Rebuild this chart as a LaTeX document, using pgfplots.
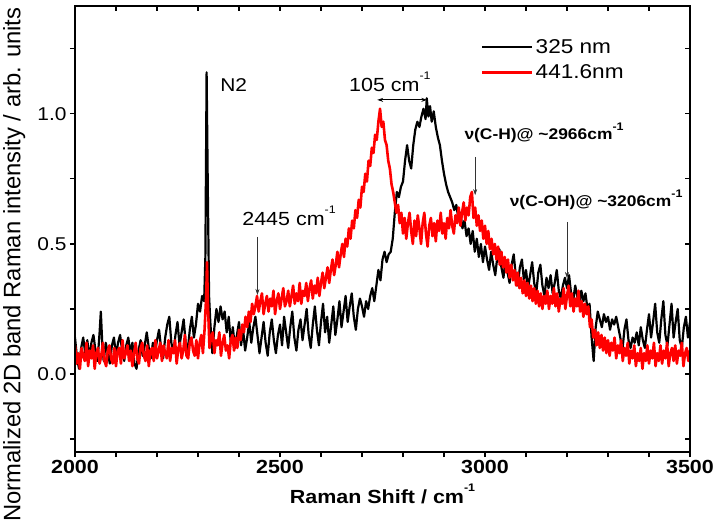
\documentclass[border=0pt]{standalone}
\usepackage{fontspec}
\setmainfont{Liberation Sans}[FakeStretch=1.13]
\newfontfamily\ylabfont{Liberation Sans}
\usepackage{pgfplots}
\pgfplotsset{compat=1.18}
\usetikzlibrary{arrows.meta}
\newcommand\fs[1]{\fontsize{#1}{#1}\selectfont}
\newcommand\sups[1]{\raisebox{0.62em}{\fontsize{11bp}{11bp}\selectfont #1}}
\begin{document}
\begin{tikzpicture}
\useasboundingbox (-75bp,-80bp) rectangle (638bp,452bp);
\begin{axis}[
  scale only axis, width=615bp, height=446bp,
  xmin=2000, xmax=3500, ymin=-0.3, ymax=1.415,
  xtick={2000,2500,3000,3500}, minor x tick num=4,
  ytick={0,0.5,1}, minor ytick={-0.25,0.25,0.75,1.25},
  xtick pos=left, ytick pos=left, tick align=outside,
  major tick length=5bp, minor tick length=5bp,
  every tick/.style={black, line width=1.1bp},
  axis line style={line width=1.3bp},
  /pgf/number format/assume math mode=true,
  /pgf/number format/1000 sep={},
  xticklabel style={font=\fs{19bp}\bfseries},
  yticklabel style={font=\fs{18.5bp}, /pgf/number format/fixed, /pgf/number format/fixed zerofill, /pgf/number format/precision=1},
  xlabel={Raman Shift / cm\sups{-1}},
  xlabel style={font=\fs{19bp}\bfseries, yshift=-3bp},
  ylabel={Normalized 2D band Raman intensity / arb. units},
  every axis y label/.style={at={(axis description cs:-0.099,0.42)}, rotate=90, anchor=center, font=\ylabfont\fs{23.8bp}},
  legend style={at={(0.66,0.93)}, anchor=north west, draw=none, fill=none, font=\fs{20bp}, inner sep=0pt, row sep=6bp, /tikz/every even column/.append style={column sep=7bp}},
  legend image code/.code={\draw[#1] (0bp,0bp) -- (50bp,0bp);},
  legend cell align=left,
]
\addplot[black, line width=2.2bp, line join=round] coordinates {
(2000,0.14)(2005,0.06)(2010,0.02)(2015,0.10)(2020,0.14)(2025,0.08)(2030,0.13)(2035,0.06)(2040,0.12)(2045,0.15)
(2050,0.09)(2055,0.05)(2060,0.16)(2063,0.24)(2067,0.10)(2070,0.05)(2075,0.12)(2080,0.08)(2085,0.04)(2090,0.11)
(2095,0.14)(2100,0.07)(2105,0.12)(2110,0.15)(2115,0.09)(2120,0.05)(2125,0.11)(2130,0.14)(2135,0.08)(2140,0.12)
(2145,0.04)(2150,0.02)(2155,0.09)(2160,0.13)(2165,0.07)(2170,0.11)(2175,0.16)(2180,0.10)(2185,0.06)(2190,0.12)
(2195,0.08)(2200,0.13)(2205,0.17)(2210,0.10)(2215,0.06)(2220,0.14)(2225,0.19)(2230,0.22)(2235,0.12)(2240,0.08)
(2245,0.15)(2250,0.20)(2255,0.11)(2260,0.16)(2265,0.21)(2270,0.12)(2275,0.09)(2280,0.17)(2285,0.22)(2290,0.14)
(2295,0.19)(2300,0.27)(2305,0.24)(2310,0.30)(2315,0.28)(2318,0.45)(2321,1.16)(2324,0.70)(2327,0.30)(2330,0.20)
(2335,0.08)(2340,0.18)(2345,0.25)(2350,0.20)(2355,0.26)(2360,0.21)(2365,0.24)(2370,0.16)(2375,0.22)(2380,0.12)
(2385,0.18)(2390,0.10)(2395,0.15)(2400,0.20)(2405,0.11)(2410,0.17)(2415,0.09)(2420,0.14)(2425,0.20)(2430,0.12)
(2435,0.18)(2440,0.22)(2445,0.15)(2450,0.08)(2455,0.14)(2460,0.20)(2465,0.12)(2470,0.07)(2475,0.16)(2480,0.21)
(2485,0.13)(2490,0.08)(2495,0.15)(2500,0.19)(2505,0.11)(2510,0.22)(2515,0.16)(2520,0.10)(2525,0.18)(2530,0.24)
(2535,0.14)(2540,0.09)(2545,0.17)(2550,0.21)(2555,0.13)(2560,0.19)(2565,0.25)(2570,0.15)(2575,0.10)(2580,0.19)
(2585,0.26)(2590,0.17)(2595,0.11)(2600,0.20)(2605,0.27)(2610,0.16)(2615,0.22)(2620,0.12)(2625,0.19)(2630,0.26)
(2635,0.15)(2640,0.21)(2645,0.28)(2650,0.18)(2655,0.24)(2660,0.30)(2665,0.20)(2670,0.26)(2675,0.31)(2680,0.22)
(2685,0.17)(2690,0.25)(2695,0.29)(2700,0.26)(2705,0.22)(2710,0.28)(2715,0.25)(2720,0.30)(2725,0.33)(2730,0.28)
(2735,0.34)(2740,0.40)(2745,0.36)(2750,0.44)(2755,0.47)(2760,0.43)(2765,0.46)(2770,0.47)(2775,0.52)(2780,0.62)
(2785,0.70)(2790,0.68)(2795,0.72)(2800,0.74)(2805,0.82)(2810,0.88)(2815,0.82)(2820,0.79)(2825,0.88)(2830,0.94)
(2835,0.97)(2840,0.95)(2845,0.99)(2850,1.02)(2855,0.98)(2858,1.06)(2862,0.99)(2866,1.03)(2870,0.97)(2875,1.01)
(2880,0.95)(2885,0.91)(2890,0.88)(2895,0.82)(2900,0.77)(2905,0.73)(2910,0.70)(2915,0.68)(2920,0.66)(2925,0.63)
(2930,0.65)(2935,0.60)(2940,0.62)(2945,0.56)(2950,0.59)(2955,0.53)(2960,0.56)(2965,0.50)(2970,0.55)(2975,0.47)
(2980,0.52)(2985,0.45)(2990,0.50)(2995,0.43)(3000,0.49)(3005,0.44)(3010,0.40)(3015,0.47)(3020,0.42)(3025,0.38)
(3030,0.45)(3035,0.48)(3040,0.41)(3045,0.37)(3050,0.44)(3055,0.39)(3060,0.35)(3065,0.42)(3070,0.46)(3075,0.38)
(3080,0.34)(3085,0.41)(3090,0.44)(3095,0.36)(3100,0.40)(3105,0.33)(3110,0.38)(3115,0.43)(3120,0.35)(3125,0.31)
(3130,0.39)(3135,0.42)(3140,0.34)(3145,0.30)(3150,0.37)(3155,0.33)(3160,0.38)(3165,0.31)(3170,0.35)(3175,0.40)
(3180,0.32)(3185,0.29)(3190,0.34)(3195,0.37)(3200,0.33)(3205,0.38)(3210,0.31)(3215,0.28)(3220,0.34)(3225,0.30)
(3230,0.26)(3235,0.32)(3240,0.28)(3245,0.31)(3250,0.25)(3255,0.27)(3260,0.14)(3265,0.05)(3270,0.18)(3275,0.24)
(3280,0.21)(3285,0.18)(3290,0.23)(3295,0.20)(3300,0.22)(3305,0.17)(3310,0.21)(3315,0.19)(3320,0.22)(3325,0.18)
(3330,0.14)(3335,0.09)(3340,0.17)(3345,0.21)(3350,0.13)(3355,0.10)(3360,0.14)(3365,0.12)(3370,0.16)(3375,0.11)
(3380,0.18)(3385,0.13)(3390,0.10)(3395,0.17)(3400,0.23)(3405,0.14)(3410,0.20)(3415,0.27)(3420,0.16)(3425,0.12)
(3430,0.21)(3435,0.28)(3440,0.15)(3445,0.11)(3450,0.19)(3455,0.27)(3460,0.14)(3465,0.20)(3470,0.25)(3475,0.13)
(3480,0.10)(3485,0.18)(3490,0.22)(3495,0.14)(3500,0.20)
};
\addlegendentry{325 nm}
\addplot[red, line width=2.6bp, line join=round] coordinates {
(2000,0.11)(2004,0.04)(2008,0.08)(2012,0.02)(2016,0.10)(2020,0.07)(2024,0.05)(2028,0.12)(2032,0.03)(2036,0.09)
(2040,0.06)(2044,0.11)(2048,0.02)(2052,0.08)(2056,0.10)(2060,0.04)(2064,0.07)(2068,0.12)(2072,0.05)(2076,0.03)
(2080,0.09)(2084,0.11)(2088,0.06)(2092,0.04)(2096,0.10)(2100,0.03)(2104,0.09)(2108,0.10)(2112,0.04)(2116,0.13)
(2120,0.06)(2124,0.08)(2128,0.11)(2132,0.05)(2136,0.09)(2140,0.03)(2144,0.08)(2148,0.12)(2152,0.06)(2156,0.04)
(2160,0.10)(2164,0.12)(2168,0.07)(2172,0.05)(2176,0.11)(2180,0.03)(2184,0.09)(2188,0.10)(2192,0.05)(2196,0.13)
(2200,0.06)(2204,0.09)(2208,0.12)(2212,0.05)(2216,0.11)(2220,0.08)(2224,0.06)(2228,0.13)(2232,0.05)(2236,0.10)
(2240,0.08)(2244,0.13)(2248,0.04)(2252,0.10)(2256,0.12)(2260,0.06)(2264,0.09)(2268,0.15)(2272,0.07)(2276,0.06)
(2280,0.12)(2284,0.14)(2288,0.09)(2292,0.07)(2296,0.13)(2300,0.06)(2304,0.12)(2308,0.15)(2312,0.08)(2316,0.17)
(2320,0.30)(2322,0.43)(2324,0.28)(2328,0.10)(2332,0.14)(2336,0.16)(2340,0.08)(2344,0.13)(2348,0.11)(2352,0.16)
(2356,0.07)(2360,0.12)(2364,0.15)(2368,0.09)(2372,0.11)(2376,0.06)(2380,0.13)(2384,0.15)(2388,0.09)(2392,0.14)
(2396,0.10)(2400,0.17)(2404,0.13)(2408,0.19)(2412,0.16)(2416,0.22)(2420,0.18)(2424,0.24)(2428,0.20)(2432,0.27)
(2436,0.23)(2440,0.26)(2444,0.30)(2448,0.24)(2452,0.28)(2456,0.31)(2460,0.23)(2464,0.27)(2468,0.30)(2472,0.24)
(2476,0.29)(2480,0.26)(2484,0.32)(2488,0.23)(2492,0.28)(2496,0.31)(2500,0.25)(2504,0.29)(2508,0.33)(2512,0.26)
(2516,0.28)(2520,0.32)(2524,0.26)(2528,0.30)(2532,0.34)(2536,0.27)(2540,0.31)(2544,0.28)(2548,0.35)(2552,0.27)
(2556,0.32)(2560,0.30)(2564,0.35)(2568,0.28)(2572,0.33)(2576,0.36)(2580,0.29)(2584,0.34)(2588,0.31)(2592,0.37)
(2596,0.30)(2600,0.35)(2604,0.39)(2608,0.33)(2612,0.37)(2616,0.41)(2620,0.35)(2624,0.40)(2628,0.44)(2632,0.38)
(2636,0.42)(2640,0.47)(2644,0.41)(2648,0.46)(2652,0.50)(2656,0.45)(2660,0.52)(2664,0.49)(2668,0.56)(2672,0.52)
(2676,0.59)(2680,0.56)(2684,0.63)(2688,0.60)(2692,0.67)(2696,0.64)(2700,0.72)(2704,0.70)(2708,0.77)(2712,0.74)
(2716,0.82)(2720,0.80)(2724,0.87)(2728,0.85)(2732,0.92)(2736,0.90)(2740,0.97)(2744,1.02)(2748,0.95)(2752,0.97)
(2756,0.90)(2760,0.88)(2764,0.82)(2768,0.79)(2772,0.73)(2776,0.70)(2780,0.66)(2784,0.62)(2788,0.65)(2792,0.58)
(2796,0.62)(2800,0.54)(2804,0.60)(2808,0.52)(2812,0.58)(2816,0.62)(2820,0.55)(2824,0.50)(2828,0.59)(2832,0.53)
(2836,0.61)(2840,0.56)(2844,0.50)(2848,0.58)(2852,0.62)(2856,0.54)(2860,0.49)(2864,0.57)(2868,0.60)(2872,0.53)
(2876,0.58)(2880,0.51)(2884,0.59)(2888,0.55)(2892,0.62)(2896,0.54)(2900,0.58)(2904,0.52)(2908,0.60)(2912,0.56)
(2916,0.63)(2920,0.57)(2924,0.54)(2928,0.61)(2932,0.58)(2936,0.64)(2940,0.57)(2944,0.62)(2948,0.66)(2952,0.59)
(2956,0.64)(2960,0.61)(2964,0.68)(2968,0.70)(2972,0.60)(2976,0.64)(2980,0.57)(2984,0.61)(2988,0.55)(2992,0.59)
(2996,0.52)(3000,0.57)(3004,0.50)(3008,0.55)(3012,0.48)(3016,0.52)(3020,0.46)(3024,0.50)(3028,0.44)(3032,0.49)
(3036,0.42)(3040,0.47)(3044,0.41)(3048,0.45)(3052,0.39)(3056,0.44)(3060,0.37)(3064,0.42)(3068,0.36)(3072,0.40)
(3076,0.34)(3080,0.39)(3084,0.33)(3088,0.37)(3092,0.31)(3096,0.36)(3100,0.30)(3104,0.35)(3108,0.29)(3112,0.34)
(3116,0.28)(3120,0.33)(3124,0.27)(3128,0.32)(3132,0.26)(3136,0.31)(3140,0.25)(3144,0.30)(3148,0.27)(3152,0.32)
(3156,0.25)(3160,0.30)(3164,0.27)(3168,0.33)(3172,0.26)(3176,0.31)(3180,0.24)(3184,0.29)(3188,0.27)(3192,0.33)
(3196,0.25)(3200,0.30)(3204,0.34)(3208,0.26)(3212,0.31)(3216,0.24)(3220,0.29)(3224,0.26)(3228,0.32)(3232,0.24)
(3236,0.28)(3240,0.22)(3244,0.27)(3248,0.23)(3252,0.26)(3256,0.18)(3260,0.21)(3264,0.14)(3268,0.17)(3272,0.11)
(3276,0.16)(3280,0.10)(3284,0.15)(3288,0.09)(3292,0.14)(3296,0.08)(3300,0.13)(3304,0.07)(3308,0.12)(3312,0.09)
(3316,0.14)(3320,0.06)(3324,0.11)(3328,0.08)(3332,0.13)(3336,0.05)(3340,0.10)(3344,0.07)(3348,0.12)(3352,0.04)
(3356,0.09)(3360,0.06)(3364,0.11)(3368,0.03)(3372,0.08)(3376,0.05)(3380,0.10)(3384,0.02)(3388,0.08)(3392,0.05)
(3396,0.11)(3400,0.04)(3404,0.09)(3408,0.06)(3412,0.12)(3416,0.03)(3420,0.08)(3424,0.05)(3428,0.11)(3432,0.04)
(3436,0.09)(3440,0.06)(3444,0.12)(3448,0.03)(3452,0.08)(3456,0.10)(3460,0.05)(3464,0.11)(3468,0.04)(3472,0.09)
(3476,0.07)(3480,0.12)(3484,0.03)(3488,0.08)(3492,0.10)(3496,0.05)(3500,0.09)
};
\addlegendentry{441.6nm}
\node[anchor=west, font=\fs{18.5bp}] at (axis cs:2346,1.11) {N2};
\node[font=\fs{19bp}] at (axis cs:2768,1.123) {105 cm\sups{-1}};
\draw[{Stealth[length=6bp,width=4bp]}-{Stealth[length=6bp,width=4bp]}, line width=0.8bp] (axis cs:2737,1.054) -- (axis cs:2859,1.054);
\node[font=\fs{19bp}] at (axis cs:2522,0.608) {2445 cm\sups{-1}};
\draw[-{Stealth[length=6bp,width=4bp]}, line width=0.6bp, black!80] (axis cs:2445,0.527) -- (axis cs:2445,0.304);
\node[font=\fs{15.4bp}\bfseries] at (axis cs:3144,0.927) {ν(C-H)@ \textasciitilde2966cm\sups{-1}};
\draw[-{Stealth[length=6bp,width=4bp]}, line width=0.6bp, black!80] (axis cs:2976,0.835) -- (axis cs:2976,0.688);
\node[font=\fs{15.4bp}\bfseries] at (axis cs:3271,0.669) {ν(C-OH)@ \textasciitilde3206cm\sups{-1}};
\draw[-{Stealth[length=6bp,width=4bp]}, line width=0.6bp, black!80] (axis cs:3200,0.585) -- (axis cs:3200,0.369);
\end{axis}
\begin{axis}[
  scale only axis, width=615bp, height=446bp,
  xmin=2000, xmax=3500, ymin=-0.3, ymax=1.415,
  xtick={2000,2500,3000,3500}, minor x tick num=4,
  ytick={0,0.5,1}, minor ytick={-0.25,0.25,0.75,1.25},
  xtick pos=right, ytick pos=right, tick align=inside,
  major tick length=5bp, minor tick length=5bp,
  every tick/.style={black, line width=1.1bp},
  axis line style={line width=1.3bp},
  xticklabels={}, yticklabels={},
]
\end{axis}
\end{tikzpicture}
\end{document}
